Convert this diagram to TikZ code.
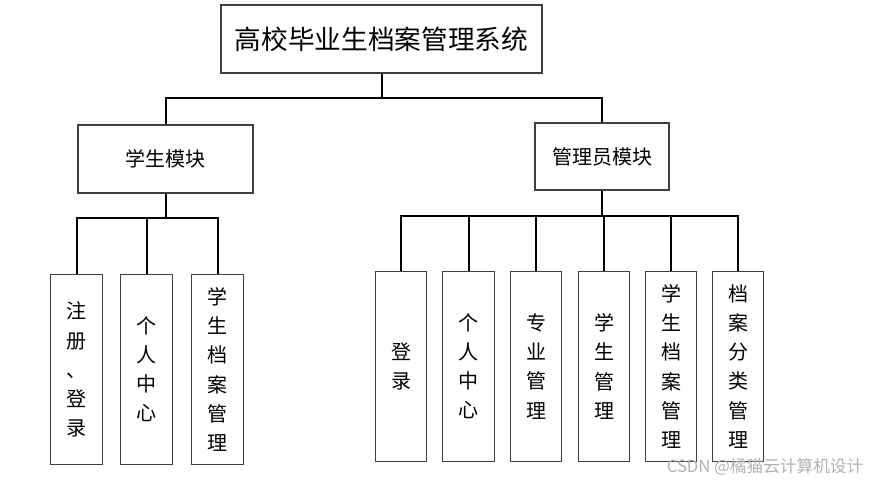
\documentclass[tikz,border=0pt]{standalone}
\usepackage{fontspec}
\setmainfont{Noto Sans CJK SC}
\newfontfamily\cjk{Noto Sans CJK SC}
\begin{document}
\begin{tikzpicture}[x=0.75pt,y=-0.75pt,
  box/.style={draw=black!75,line width=0.8pt,fill=white,inner sep=0pt,align=center},
  leaf/.style={box,minimum width=38.5pt,minimum height=143pt,font=\cjk\fontsize{15}{21.8}\selectfont},
  conn/.style={draw=black,line width=1.5pt}]
\useasboundingbox (0,0) rectangle (871,481);
% top and modules
\node[box,minimum width=240.75pt,minimum height=51pt,font=\cjk\fontsize{20}{24}\selectfont] (top) at (381.5,39) {高校毕业生档案管理系统};
\node[box,minimum width=131.25pt,minimum height=51pt,font=\cjk\fontsize{15}{18}\selectfont] (stu) at (165.5,159) {学生模块};
\node[box,minimum width=100.5pt,minimum height=50.25pt,font=\cjk\fontsize{15}{18}\selectfont] (adm) at (602,156.5) {管理员模块};
% student leaves
\node[leaf] (s1) at (76.5,369.5) {注\\册\\、\\登\\录};
\node[leaf] (s2) at (146.5,369.5) {个\\人\\中\\心};
\node[leaf] (s3) at (217.5,369.5) {学\\生\\档\\案\\管\\理};
% admin leaves
\node[leaf] (a1) at (401,366.5) {登\\录};
\node[leaf] (a2) at (468.5,366.5) {个\\人\\中\\心};
\node[leaf] (a3) at (536,366.5) {专\\业\\管\\理};
\node[leaf] (a4) at (604,366.5) {学\\生\\管\\理};
\node[leaf] (a5) at (671,366.5) {学\\生\\档\\案\\管\\理};
\node[leaf] (a6) at (738,366.5) {档\\案\\分\\类\\管\\理};
% connectors
\coordinate (b1) at (381.5,98);
\coordinate (b2) at (165.5,218);
\coordinate (b3) at (602,216);
\draw[conn] (top.south) -- (b1);
\draw[conn] (b1) -| (stu.north);
\draw[conn] (b1) -| (adm.north);
\draw[conn] (stu.south) -- (b2);
\foreach \n in {s1,s2,s3} \draw[conn] (b2) -| (\n.north);
\draw[conn] (adm.south) -- (b3);
\foreach \n in {a1,a2,a3,a4,a5,a6} \draw[conn] (b3) -| (\n.north);
% watermark
\node[text=black!30,font=\cjk\fontsize{12.5}{14}\selectfont,anchor=east] (wm) at (868,467) {CSDN @橘猫云计算机设计};
\end{tikzpicture}
\end{document}
